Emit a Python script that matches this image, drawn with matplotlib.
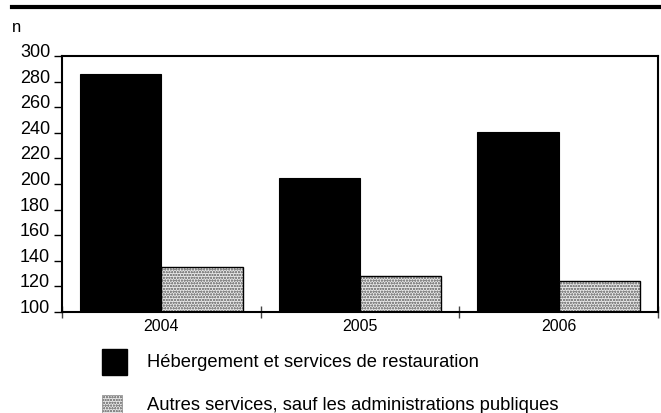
import matplotlib
matplotlib.use("Agg")
import matplotlib.pyplot as plt
import numpy as np
from matplotlib.patches import Rectangle
from matplotlib.lines import Line2D

plt.rcParams['font.family'] = ['Liberation Sans', 'DejaVu Sans']
plt.rcParams['hatch.linewidth'] = 0.6

years = ['2004', '2005', '2006']
hebergement = [286, 205, 241]
autres = [135, 128, 124]
series_labels = ['Hébergement et services de restauration',
                 'Autres services, sauf les administrations publiques']
yticks = [100, 120, 140, 160, 180, 200, 220, 240, 260, 280, 300]

W, H = 661, 414
fig = plt.figure(figsize=(W / 100, H / 100), dpi=100)
ax = fig.add_axes([62 / W, 1 - 313 / H, (658 - 62) / W, (313 - 57) / H])

x = np.arange(len(years))
bw = 0.41
ax.bar(x - bw / 2, hebergement, bw, color='black', edgecolor='black', linewidth=0.8, zorder=2)
ax.bar(x + bw / 2, autres, bw, color='#e6e6e6', edgecolor='#888888', hatch='oooooo', linewidth=0, zorder=2)
ax.bar(x + bw / 2, autres, bw, color='none', edgecolor='black', linewidth=1.0, zorder=3)

ax.set_xlim(-0.5, 2.5)
ax.set_ylim(100, 300)
ax.set_yticks(yticks)
ax.set_yticklabels([str(v) for v in yticks], fontsize=13, va='baseline')
ax.tick_params(axis='y', direction='out', length=6, width=1, pad=2.5)

ax.set_xticks(x)
ax.set_xticklabels(years, fontsize=11.5)
ax.tick_params(axis='x', length=0, pad=4)
ax.set_xticks([-0.5, 0.5, 1.5, 2.5], minor=True)
ax.tick_params(axis='x', which='minor', direction='inout', length=9, width=1, color='#444444')

for s in ax.spines.values():
    s.set_linewidth(1.5)
    s.set_color('black')

# Top thick rule
fig.add_artist(Line2D([12 / W, 1.0], [1 - 7.5 / H, 1 - 7.5 / H], color='black',
                      linewidth=3.0, transform=fig.transFigure))
fig.text(12 / W, 1 - 28 / H, 'n', fontsize=12, va='center', ha='left')

# Legend (drawn manually for exact placement)
fig.add_artist(Rectangle((102 / W, 1 - 376 / H), 25 / W, 26 / H, facecolor='black',
                         edgecolor='black', transform=fig.transFigure))
fig.add_artist(Rectangle((102 / W, 1 - 416 / H), 20 / W, 20 / H, facecolor='#e6e6e6',
                         edgecolor='#888888', hatch='oooooo', linewidth=0.5,
                         transform=fig.transFigure))
fig.text(147 / W, 1 - 363 / H, series_labels[0], fontsize=13.2, va='center', ha='left')
fig.text(147 / W, 1 - 406 / H, series_labels[1], fontsize=13.2, va='center', ha='left')

fig.savefig('out.png', dpi=100)
